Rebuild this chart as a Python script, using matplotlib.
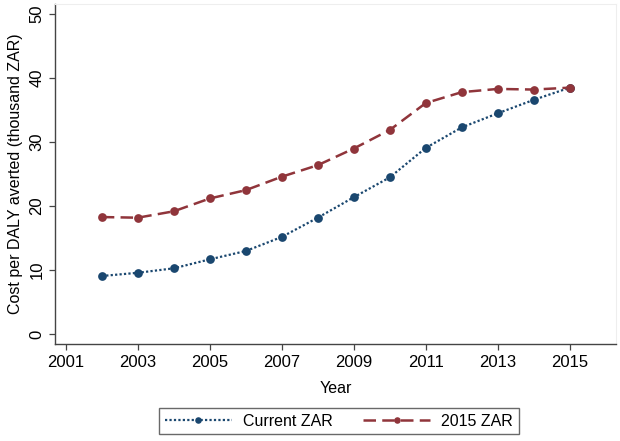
import matplotlib
matplotlib.use("Agg")
import matplotlib.pyplot as plt

plt.rcParams['font.family'] = ['Liberation Sans', 'DejaVu Sans']

years = [2002, 2003, 2004, 2005, 2006, 2007, 2008, 2009, 2010, 2011, 2012, 2013, 2014, 2015]
current_zar = [9.1, 9.6, 10.3, 11.7, 13.0, 15.2, 18.2, 21.4, 24.5, 29.1, 32.3, 34.5, 36.6, 38.5]
zar_2015 = [18.3, 18.2, 19.2, 21.2, 22.5, 24.6, 26.4, 29.0, 31.9, 36.1, 37.8, 38.3, 38.2, 38.5]
xticks = [2001, 2003, 2005, 2007, 2009, 2011, 2013, 2015]
yticks = [0, 10, 20, 30, 40, 50]

navy = "#1a476f"
maroon = "#90353b"

fig = plt.figure(figsize=(6.2, 4.41), dpi=100)
ax = fig.add_axes([0.0887, 0.2193, 0.9048, 0.7717])

ax.plot(years, current_zar, color=navy, linestyle=(0, (1, 1)), linewidth=1.6,
        marker="o", markersize=6.3, markeredgewidth=0, label="Current ZAR")
ax.plot(years, zar_2015, color=maroon, linestyle=(0, (5, 2.5)), linewidth=1.8,
        marker="o", markersize=6.3, markeredgewidth=0, label="2015 ZAR")

ax.set_xlim(2000.70, 2016.28)
ax.set_ylim(-1.56, 51.56)
ax.set_xticks(xticks)
ax.set_yticks(yticks)
ax.tick_params(axis="both", labelsize=12, length=4, width=0.9, color="#444444", direction="out")
for lab in ax.get_yticklabels():
    lab.set_rotation(90)
    lab.set_va("center")

for s in ["left", "bottom"]:
    ax.spines[s].set_color("#444444")
    ax.spines[s].set_linewidth(1.0)
for s in ["top", "right"]:
    ax.spines[s].set_color("#eeeeee")
    ax.spines[s].set_linewidth(0.8)

ax.set_xlabel("Year", fontsize=11.5, labelpad=8)
ax.set_ylabel("Cost per DALY averted (thousand ZAR)", fontsize=11.5, labelpad=5)

leg = fig.legend(loc="center", bbox_to_anchor=(339 / 620, 1 - 421 / 441), ncol=2,
                 fontsize=11.5, fancybox=False, edgecolor="#444444", markerscale=0.75,
                 handlelength=4.2, handletextpad=0.7, columnspacing=1.9, borderpad=0.35)
leg.get_frame().set_linewidth(1.0)

fig.savefig("out.png", dpi=100)
